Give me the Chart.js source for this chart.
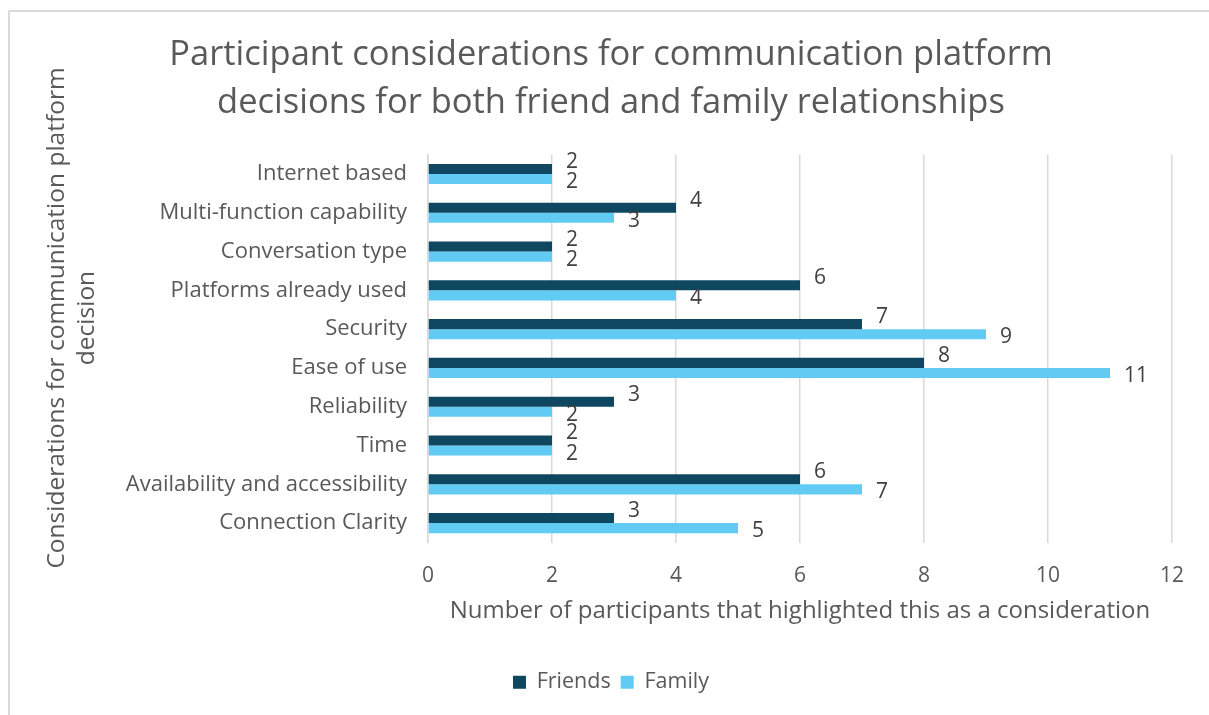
<!DOCTYPE html>
<html>
<head>
<meta charset="utf-8">
<script src="https://cdn.jsdelivr.net/npm/chart.js@4"></script>
<style>
  html, body { margin: 0; padding: 0; background: #fff; overflow: hidden; }
  #frame {
    position: absolute; left: 8px; top: 10px;
    width: 1240px; height: 740px;
    border: 2px solid #d9d9d9; border-radius: 2px;
  }
  #wrap { position: absolute; left: 0; top: 0; width: 1209px; height: 715px; }
</style>
</head>
<body>
<div id="frame"></div>
<div id="wrap"><canvas id="myChart" width="1209" height="715"></canvas></div>
<script>
// categories listed top to bottom
const considerations = [
    "Internet based",
    "Multi-function capability",
    "Conversation type",
    "Platforms already used",
    "Security",
    "Ease of use",
    "Reliability",
    "Time",
    "Availability and accessibility",
    "Connection Clarity"
];
const friends = [2, 4, 2, 6, 7, 8, 3, 2, 6, 3];
const family = [2, 3, 2, 4, 9, 11, 2, 2, 7, 5];
const xTicks = [0, 2, 4, 6, 8, 10, 12];
const yTitle = ["Considerations for communication platform", "decision"];

const FONT = "'Open Sans', 'Noto Sans', sans-serif";
const GREY = '#595959';

// value labels just past the bar ends, friends nudged up, family nudged down
const valueLabels = {
    id: 'valueLabels',
    afterDatasetsDraw(chart) {
        const ctx = chart.ctx;
        ctx.save();
        ctx.font = '21px ' + FONT;
        ctx.fillStyle = '#404040';
        ctx.textAlign = 'left';
        ctx.textBaseline = 'middle';
        chart.data.datasets.forEach(function (ds, i) {
            const meta = chart.getDatasetMeta(i);
            const dy = i === 0 ? -7 : 3;
            meta.data.forEach(function (bar, j) {
                ctx.fillText(String(ds.data[j]), bar.x + 14, bar.y + dy);
            });
        });
        ctx.restore();
    }
};

// vertical axis title, centred on the whole chart height rather than the plot
const sideTitle = {
    id: 'sideTitle',
    afterDraw(chart) {
        const ctx = chart.ctx;
        ctx.save();
        ctx.font = '24.5px ' + FONT;
        ctx.fillStyle = GREY;
        ctx.textAlign = 'center';
        ctx.textBaseline = 'middle';
        ctx.translate(57, 318);
        ctx.rotate(-Math.PI / 2);
        yTitle.forEach(function (line, i) {
            ctx.fillText(line, 0, i * 30);
        });
        ctx.restore();
    }
};

document.addEventListener('DOMContentLoaded', function () {
    var ctx = document.getElementById('myChart').getContext('2d');
    var myChart = new Chart(ctx, {
        type: 'bar',
        data: {
            labels: considerations,
            datasets: [{
                label: "Friends",
                data: friends,
                backgroundColor: '#0f4761',
                barPercentage: 1,
                categoryPercentage: 0.52
            }, {
                label: "Family",
                data: family,
                backgroundColor: '#61cbf3',
                barPercentage: 1,
                categoryPercentage: 0.52
            }]
        },
        plugins: [valueLabels, sideTitle],
        options: {
            indexAxis: 'y',
            responsive: false,
            animation: false,
            layout: { padding: { left: 50, right: 37, top: 31, bottom: 12 } },
            scales: {
                x: {
                    min: 0,
                    max: 12,
                    afterBuildTicks: function (scale) {
                        scale.ticks = xTicks.map(function (v) { return { value: v }; });
                    },
                    afterFit: function (scale) { scale.height = 119; },
                    grid: { color: '#d9d9d9', lineWidth: 1.5, drawTicks: false },
                    border: { display: false },
                    ticks: { color: GREY, font: { size: 21, family: FONT }, padding: 21 },
                    title: {
                        display: true,
                        text: "Number of participants that highlighted this as a consideration",
                        color: GREY,
                        font: { size: 24, family: FONT, lineHeight: 1.0 },
                        padding: { top: 0, bottom: 38 }
                    }
                },
                y: {
                    afterFit: function (scale) { scale.width = 378; },
                    grid: { display: false, drawTicks: false },
                    border: { display: true, color: '#d9d9d9', width: 1.5 },
                    ticks: { color: GREY, font: { size: 22, family: FONT }, padding: 21 }
                }
            },
            plugins: {
                title: {
                    display: true,
                    text: ["Participant considerations for communication platform",
                           "decisions for both friend and family relationships"],
                    color: GREY,
                    font: { size: 34.5, family: FONT, weight: 'normal', lineHeight: 1.4 },
                    padding: { top: 0, bottom: 27 }
                },
                legend: {
                    position: 'bottom',
                    labels: {
                        color: GREY,
                        font: { size: 21.5, family: FONT },
                        boxWidth: 13,
                        boxHeight: 13,
                        padding: 10
                    }
                },
                tooltip: { enabled: false }
            }
        }
    });
});
</script>
</body>
</html>
